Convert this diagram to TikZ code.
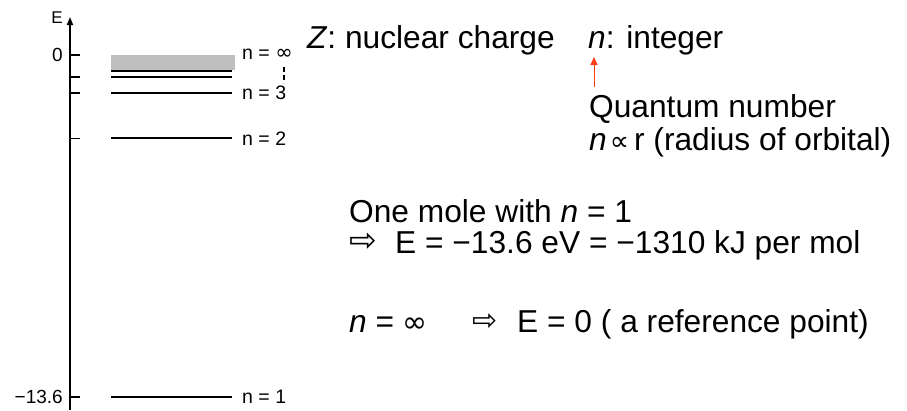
\documentclass[tikz,border=0pt]{standalone}
\usepackage{fontspec}
\setmainfont{Liberation Sans}
\newfontfamily\dejavu{DejaVu Sans}
\usetikzlibrary{arrows.meta}
\definecolor{arrowred}{RGB}{255,60,20}
\begin{document}
\begin{tikzpicture}[x=1pt,y=-1pt,
  big/.style={anchor=base west,inner sep=0pt,font=\fontsize{31.7}{38}\selectfont},
  small/.style={anchor=base west,inner sep=0pt,font=\fontsize{19.5}{22}\selectfont},
  axlabel/.style={anchor=east,inner sep=0pt,font=\fontsize{19}{22}\selectfont},
  level/.style={line width=2pt},
  tickmark/.style={line width=1.6pt},
]
\useasboundingbox (0,0) rectangle (907,410);
% energy axis
\coordinate (ax0) at (70,410);
\coordinate (ax1) at (70,17);
\draw[line width=1.6pt,-{Triangle[length=8pt,width=6pt]}] (ax0) -- (ax1);
\node[inner sep=0pt,font=\fontsize{17}{20}\selectfont] (E) at (57,18) {E};
\foreach \y in {55,77,92.7,138.3,396.7} \draw[tickmark] (70,\y) -- (80,\y);
\node[axlabel] (zero) at (63,55) {0};
\node[axlabel] (bottom) at (63,397) {−13.6};
% continuum
\fill[gray!50] (111,55) rectangle (235,70);
% levels
\draw[level] (111,71) -- (232,71);
\draw[level] (111,77) -- (232,77);
\draw[level] (111,92.7) -- (232,92.7);
\draw[level] (111,138.3) -- (232,138.3);
\draw[level] (111,396.7) -- (232,396.7);
% level labels
\node[small] (ninf) at (242,59.5) {n = {\dejavu\fontsize{21}{22}\selectfont ∞}};
\node[small] (n3) at (242,99.5) {n = 3};
\node[small] (n2) at (242,145.5) {n = 2};
\node[small] (n1) at (242,403.5) {n = 1};
\coordinate (dtop) at (284,67);
\coordinate (dbot) at (284,83);
\draw[line width=1.8pt,dash pattern=on 5pt off 3pt] (dtop) -- (dbot);
% text
\node[big] (Z) at (307,48) {\textit{Z}: nuclear charge};
\node[big] (nint) at (588,48) {\textit{n}: integer};
\node[big] (qn) at (589,117) {Quantum number};
\node[big] (prop) at (589,150) {\textit{n}\hspace{3pt}{\dejavu\fontsize{27}{28}\selectfont ∝}\hspace{5pt}r (radius of orbital)};
\coordinate (qa0) at (594,87);
\coordinate (qa1) at (594,57);
\draw[arrowred,line width=1pt,-{Triangle[length=8pt,width=7pt]}] (qa0) -- (qa1);
\node[big] (mole) at (349,222) {One mole with \textit{n} = 1};
\node[big] (ar1) at (349,251) {\dejavu\fontsize{33}{34}\selectfont ⇨};
\node[big] (en) at (395,253) {E = −13.6 eV = −1310 kJ per mol};
\node[big] (ninfty) at (349,332) {\textit{n} = {\dejavu\fontsize{30}{30}\selectfont ∞}};
\node[big] (ar2) at (472,330) {\dejavu\fontsize{30}{32}\selectfont ⇨};
\node[big] (ref) at (517,332) {E = 0 ( a reference point)};
\end{tikzpicture}
\end{document}
